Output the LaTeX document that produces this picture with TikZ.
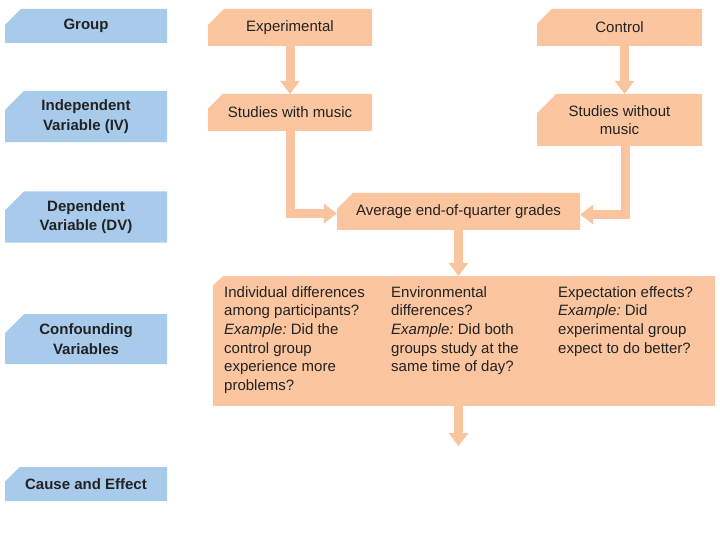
\documentclass[tikz,border=0pt]{standalone}
\usepackage{fontspec}
\setmainfont{Liberation Sans}
\usetikzlibrary{shapes.misc,arrows.meta,calc}
\definecolor{bluebox}{HTML}{A9CBEB}
\definecolor{orangebox}{HTML}{FBC59F}
\definecolor{arrowc}{HTML}{F9C49E}
\definecolor{txt}{HTML}{222222}
\frenchspacing
\tikzset{
  basebox/.style={chamfered rectangle, chamfered rectangle corners=north west,
    chamfered rectangle xsep=10pt, chamfered rectangle ysep=9pt,
    inner sep=0pt, align=center, text=txt},
  labelbox/.style={basebox, fill=bluebox, minimum width=162pt,
    font=\fontsize{15}{19.5}\selectfont\bfseries},
  stepbox/.style={basebox, fill=orangebox,
    font=\fontsize{15}{18.7}\selectfont},
  coltext/.style={anchor=north west, inner sep=0pt, align=left, text=txt,
    font=\fontsize{15}{18.7}\selectfont},
  conn/.style={draw=arrowc, line width=9pt, line join=miter,
    -{Triangle[width=20pt,length=13pt,line width'=0pt]}}
}
\begin{document}
\begin{tikzpicture}[x=1pt,y=-1pt]
\useasboundingbox (0,0) rectangle (720,540);
% left labels
\node[labelbox, minimum height=34pt] (grp) at (86,26) {Group};
\node[labelbox, minimum height=49pt] (iv) at (86,116.5) {Independent\\Variable (IV)};
\node[labelbox, minimum height=50pt] (dv) at (86,217) {Dependent\\Variable (DV)};
\node[labelbox, minimum height=50pt] (cv) at (86,339) {Confounding\\Variables};
\node[labelbox, minimum height=34pt] (ce) at (86,484) {Cause and Effect};
% flow boxes
\node[stepbox, minimum width=164pt, minimum height=37pt] (exp) at (290,27.5) {Experimental};
\node[stepbox, minimum width=164pt, minimum height=37pt] (swm) at (290,112.5) {Studies with music};
\node[stepbox, minimum width=165pt, minimum height=37pt] (ctl) at (619.5,27.5) {Control};
\node[stepbox, minimum width=165pt, minimum height=52pt] (swom) at (619.5,120) {Studies without\\music};
\node[stepbox, minimum width=243pt, minimum height=37pt] (avg) at (458.5,211.5) {Average end-of-quarter grades};
\node[rectangle, fill=orangebox, inner sep=0pt, minimum width=502pt, minimum height=130pt] (conf) at (464,341) {};
\fill[white] ([xshift=-0.5pt,yshift=0.5pt]conf.north west) -- ++(11.5,0) -- ++(-11.5,10.5) -- cycle;
\node[coltext] (c1) at (224,286) {Individual differences\\among participants?\\\textit{Example:} Did the\\control group\\experience more\\problems?};
\node[coltext] (c2) at (391,286) {Environmental\\differences?\\\textit{Example:} Did both\\groups study at the\\same time of day?};
\node[coltext] (c3) at (558,286) {Expectation effects?\\\textit{Example:} Did\\experimental group\\expect to do better?};
\coordinate (ceend) at (458.5,446);
% connectors
\draw[conn] (exp.south) -- (swm.north);
\draw[conn] (swm.south) |- ([yshift=-2pt]avg.west);
\draw[conn] ([xshift=5pt]ctl.south) -- ([xshift=5pt]swom.north);
\draw[conn] ([xshift=6pt]swom.south) |- ([yshift=-3pt]avg.east);
\draw[conn] (avg.south) -- (avg.south |- conf.north);
\draw[conn] (ceend |- conf.south) -- (ceend);
\end{tikzpicture}
\end{document}
